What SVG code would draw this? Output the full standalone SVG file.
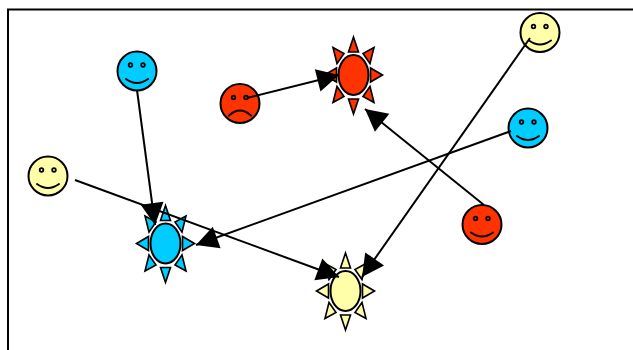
<svg xmlns="http://www.w3.org/2000/svg" xmlns:xlink="http://www.w3.org/1999/xlink" width="633" height="350" viewBox="0 0 633 350">
<style>
.ln{fill:none;stroke:#000;stroke-width:2}
.s{stroke:#000;stroke-width:2;stroke-linejoin:miter}
.rs{stroke-width:1.6}
.r{fill:#ff3300}.c{fill:#00ccff}.y{fill:#ffffaa}
.e{fill:none;stroke:#000;stroke-width:1.8}
.m{fill:none;stroke:#000;stroke-width:2;stroke-linecap:round}
</style>
<defs>
<marker id="ah" markerUnits="userSpaceOnUse" markerWidth="26" markerHeight="26" refX="22" refY="11.500" orient="auto" overflow="visible"><path d="M0,0L22,11.500L0,23Z" fill="#000"/></marker>
<g id="sun">
<ellipse cx="0" cy="0" rx="15" ry="20"/>
<g class="rs">
<path d="M0,-38L5,-23H-5Z"/>
<path d="M0,39L5,24H-5Z"/>
<path d="M-29,0L-17,-7V7Z"/>
<path d="M29,0L17,-7V7Z"/>
<path d="M-20.500,-27.500L-9.500,-21.500L-16.500,-11.500Z"/>
<path d="M20.500,-27.500L9.500,-21.500L16.500,-11.500Z"/>
<path d="M-20.500,27.500L-9.500,21.500L-16.500,11.500Z"/>
<path d="M20.500,27.500L9.500,21.500L16.500,11.500Z"/>
</g>
</g>
<g id="smile">
<circle cx="0" cy="0" r="19.5" class="s"/>
<circle cx="-6.5" cy="-6" r="1.8" class="e"/>
<circle cx="6" cy="-6" r="1.8" class="e"/>
<path class="m" d="M-11,8Q0,16 11,8"/>
</g>
</defs>
<rect width="633" height="350" fill="#fff"/>
<path class="ln" d="M8,350V9.500H633"/>
<g id="sun-cyan" class="s c"><use xlink:href="#sun" href="#sun" x="165.500" y="243.500"/></g>
<g id="sun-red" class="s r"><use xlink:href="#sun" href="#sun" x="353.500" y="75"/></g>
<g id="sun-yellow" class="s y"><use xlink:href="#sun" href="#sun" x="345.500" y="291"/></g>
<g id="face-cyan-1" class="c"><use xlink:href="#smile" href="#smile" x="137" y="71"/></g>
<g id="face-cyan-2" class="c"><use xlink:href="#smile" href="#smile" x="528" y="128"/></g>
<g id="face-yellow-1" class="y"><use xlink:href="#smile" href="#smile" x="48" y="176"/></g>
<g id="face-yellow-2" class="y"><use xlink:href="#smile" href="#smile" x="540" y="32.500"/></g>
<g id="face-red-1" class="r"><use xlink:href="#smile" href="#smile" x="482" y="224.500"/></g>
<g id="face-red-2" class="r">
<circle cx="240" cy="103.500" r="19.500" class="s"/>
<circle cx="233.500" cy="97.500" r="1.800" class="e"/>
<circle cx="246" cy="97.500" r="1.800" class="e"/>
<path class="m" d="M229,115.500Q240,105.500 251,115.500"/>
</g>
<g id="connectors" class="ln">
<line x1="137" y1="90" x2="155" y2="225" marker-end="url(#ah)"/>
<line x1="75" y1="180" x2="339" y2="277" marker-end="url(#ah)"/>
<line x1="511" y1="131" x2="196" y2="245" marker-end="url(#ah)"/>
<line x1="530" y1="38" x2="362" y2="277" marker-end="url(#ah)"/>
<line x1="484" y1="205" x2="365" y2="109" marker-end="url(#ah)"/>
<line x1="247" y1="98" x2="339" y2="75" marker-end="url(#ah)"/>
</g>
</svg>
